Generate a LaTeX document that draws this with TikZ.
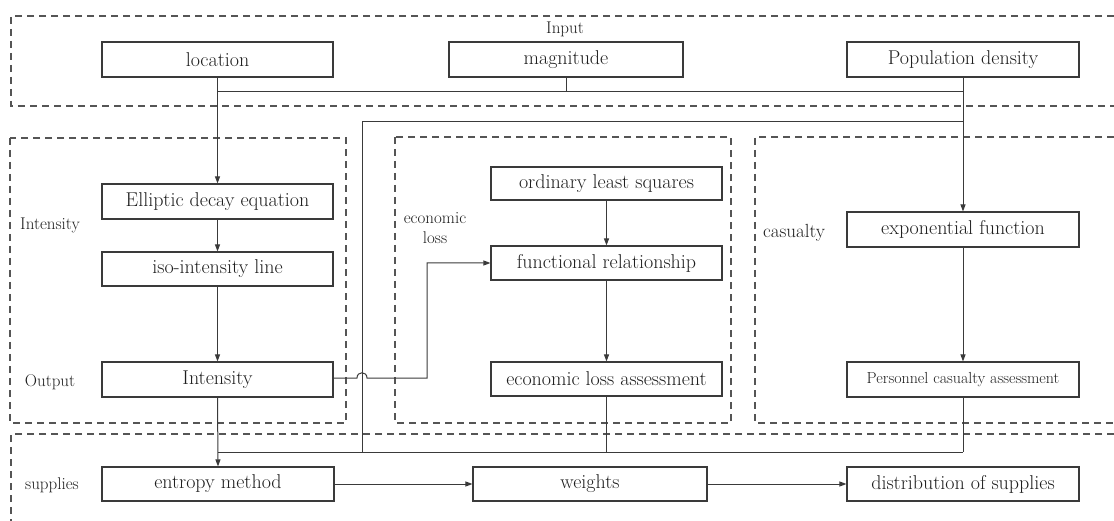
\documentclass[tikz,border=0pt]{standalone}
\usepackage{fontspec}
\usetikzlibrary{arrows.meta}
\definecolor{ln}{HTML}{3A3A3A}
\definecolor{dl}{HTML}{555555}
\definecolor{tx}{HTML}{1E1E1E}
\tikzset{
  bx/.style={draw=ln, line width=1.1pt, inner sep=0pt, text=tx, font=\rmfamily\fontsize{20}{24}\selectfont, minimum height=35pt},
  lbl/.style={text=tx, font=\rmfamily\fontsize{17}{20}\selectfont, inner sep=0pt, align=center},
  region/.style={draw=dl, line width=1.1pt, dash pattern=on 7pt off 5pt},
  con/.style={draw=ln, line width=1pt},
  arr/.style={con, -{Triangle[length=7pt,width=5pt]}}
}
\begin{document}
\begin{tikzpicture}[x=1pt,y=-1pt]
\useasboundingbox (0,0) rectangle (1114,521);
% regions
\draw[region] (1114,16) -- (11,16) -- (11,106) -- (1114,106);
\draw[region] (10,138) rectangle (346,423);
\draw[region] (395,137) rectangle (731,423);
\draw[region] (1114,137) -- (755,137) -- (755,423) -- (1114,423);
\draw[region] (1114,434) -- (11,434) -- (11,521);
% labels
\node[lbl] (lin) at (565,29) {Input};
\node[lbl] (lint) at (50,225) {Intensity};
\node[lbl] (lout) at (50,382) {Output};
\node[lbl] (leco) at (435,228) {economic\\loss};
\node[lbl, font=\rmfamily\fontsize{19}{22}\selectfont] (lcas) at (794,233) {casualty};
\node[lbl] (lsup) at (52,485) {supplies};
% boxes
\node[bx, minimum width=231pt] (loc) at (217.5,59.5) {location};
\node[bx, minimum width=234pt] (mag) at (566,59.5) {magnitude};
\node[bx, minimum width=232pt] (pop) at (963,59.5) {Population density};
\node[bx, minimum width=231pt] (ell) at (217.5,201.5) {Elliptic decay equation};
\node[bx, minimum width=231pt, minimum height=34pt] (iso) at (217.5,269) {iso-intensity line};
\node[bx, minimum width=231pt] (int) at (217.5,379.5) {Intensity};
\node[bx, minimum width=231pt, minimum height=33pt] (ols) at (606.5,183.5) {ordinary least squares};
\node[bx, minimum width=231pt, minimum height=34pt] (fun) at (606.5,263) {functional relationship};
\node[bx, minimum width=231pt, minimum height=34pt] (eco) at (606.5,379) {economic loss assessment};
\node[bx, minimum width=232pt] (exf) at (963,229.5) {exponential function};
\node[bx, minimum width=232pt, font=\rmfamily\fontsize{16}{19}\selectfont] (per) at (963,379.5) {Personnel casualty assessment};
\node[bx, minimum width=232pt, minimum height=34pt] (ent) at (218,484) {entropy method};
\node[bx, minimum width=234pt, minimum height=34pt] (wei) at (590,484) {weights};
\node[bx, minimum width=232pt, minimum height=34pt] (dis) at (963,484) {distribution of supplies};
% junction coordinates
\coordinate (j1) at (963,92);
\coordinate (j2) at (963,122);
\coordinate (k2) at (362,122);
\coordinate (k3) at (362,452);
\coordinate (b1) at (218,452);
\coordinate (b2) at (963,452);
\coordinate (h1) at (357,378);
\coordinate (h2) at (367,378);
\coordinate (c1) at (427,378);
\coordinate (c2) at (427,263);
% connectors
\draw[arr] (loc.south) -- (ell.north);
\draw[con] (mag.south) -- (mag.south |- j1);
\draw[con] (j1) -- (loc.south |- j1);
\draw[arr] (pop.south) -- (exf.north);
\draw[con] (j2) -- (k2) -- (k3);
\draw[con] (b1) -- (b2);
\draw[con] (eco.south) -- (eco.south |- b1);
\draw[con] (per.south) -- (per.south |- b1);
\draw[arr] (ell.south) -- (iso.north);
\draw[arr] (iso.south) -- (int.north);
\draw[arr] (int.south) -- (ent.north);
\draw[arr] (ols.south) -- (fun.north);
\draw[arr] (fun.south) -- (eco.north);
\draw[arr] (exf.south) -- (per.north);
\draw[arr] (int.east |- h1) -- (h1) .. controls (357,371) and (367,371) .. (h2) -- (c1) -- (c2) -- (fun.west);
\draw[arr] (ent.east) -- (wei.west);
\draw[arr] (wei.east) -- (dis.west);
\end{tikzpicture}
\end{document}
